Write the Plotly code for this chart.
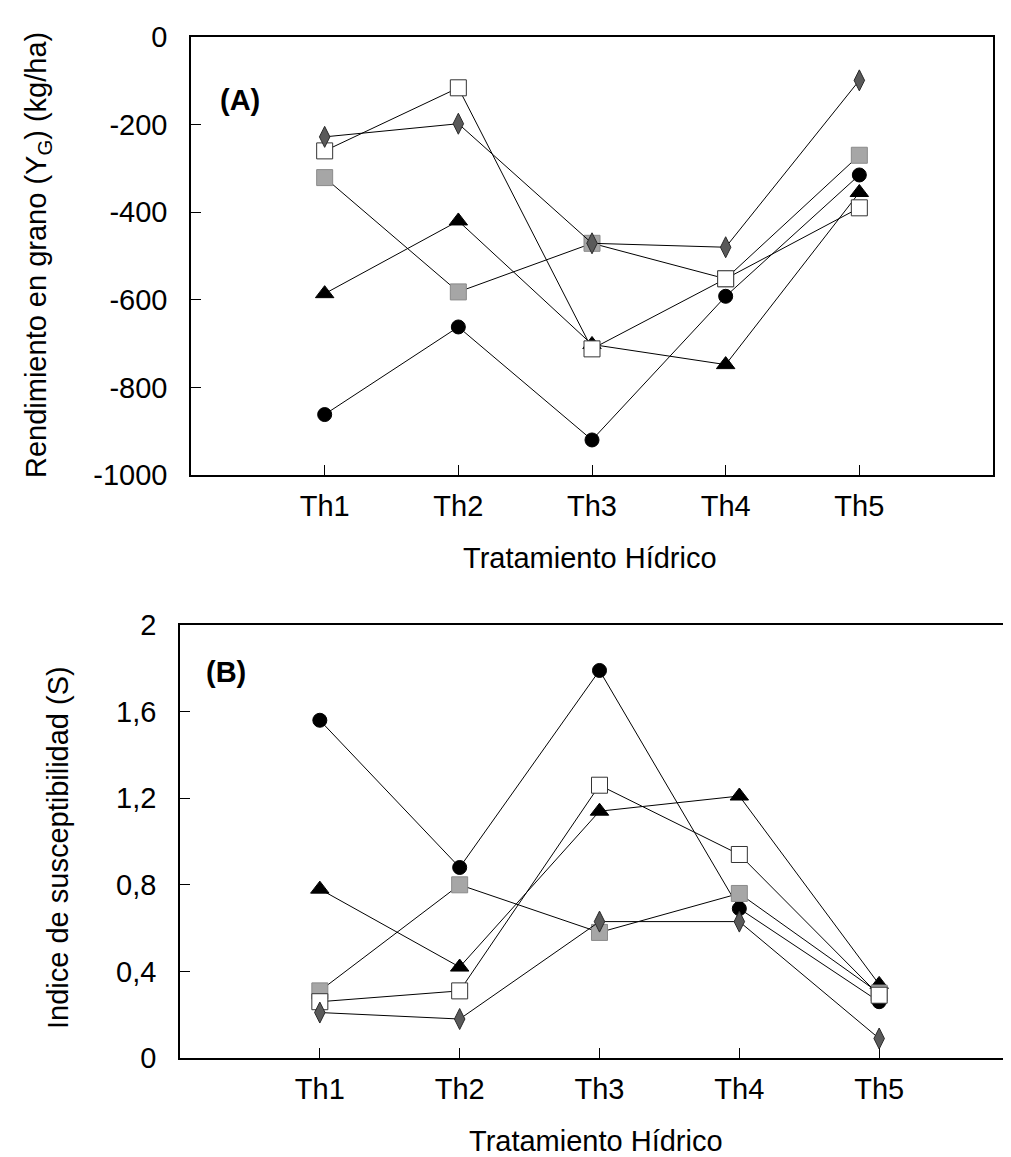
import plotly.graph_objects as go

# ---------------- data ----------------
categories = ["Th1", "Th2", "Th3", "Th4", "Th5"]

# Panel A: Rendimiento en grano (kg/ha)
a_circle = [-862, -662, -920, -592, -315]
a_triangle = [-586, -420, -702, -748, -355]
a_diamond = [-228, -198, -471, -480, -99]
a_stipple = [-321, -582, -471, -552, -270]
a_open = [-260, -116, -712, -552, -390]

# Panel B: Indice de susceptibilidad (S)
b_circle = [1.56, 0.88, 1.79, 0.69, 0.26]
b_triangle = [0.78, 0.42, 1.14, 1.21, 0.34]
b_diamond = [0.21, 0.18, 0.63, 0.63, 0.09]
b_stipple = [0.31, 0.80, 0.58, 0.76, 0.30]
b_open = [0.26, 0.31, 1.26, 0.94, 0.29]

a_tickvals = [-1000, -800, -600, -400, -200, 0]
a_ticktext = ["-1000", "-800", "-600", "-400", "-200", "0"]
b_tickvals = [0, 0.4, 0.8, 1.2, 1.6, 2]
b_ticktext = ["0", "0,4", "0,8", "1,2", "1,6", "2"]

# ---------------- styling ----------------
W, H = 1011, 1157
FONT = "Liberation Sans, Arial, sans-serif"

styles = [
    dict(name="circle", marker=dict(symbol="circle", size=14, color="black",
                                     line=dict(color="black", width=1))),
    dict(name="triangle", marker=dict(symbol="triangle-up", size=16, color="black",
                                       line=dict(color="black", width=1))),
    dict(name="stipple", marker=dict(symbol="square", size=16, color="#a6a6a6",
                                      line=dict(color="#8a8a8a", width=1))),
    dict(name="open", marker=dict(symbol="square", size=16, color="white",
                                   line=dict(color="#333333", width=1))),
    dict(name="diamond", marker=dict(symbol="diamond-tall", size=15, color="#5a5a5a",
                                      line=dict(color="#2a2a2a", width=1))),
]

series_a = {"circle": a_circle, "triangle": a_triangle, "stipple": a_stipple,
            "open": a_open, "diamond": a_diamond}
series_b = {"circle": b_circle, "triangle": b_triangle, "stipple": b_stipple,
            "open": b_open, "diamond": b_diamond}

fig = go.Figure()
for st in styles:
    fig.add_trace(go.Scatter(x=categories, y=series_a[st["name"]], mode="lines+markers",
                             line=dict(color="black", width=1), marker=st["marker"],
                             xaxis="x", yaxis="y", showlegend=False, name=st["name"]))
for st in styles:
    fig.add_trace(go.Scatter(x=categories, y=series_b[st["name"]], mode="lines+markers",
                             line=dict(color="black", width=1), marker=st["marker"],
                             xaxis="x2", yaxis="y2", showlegend=False, name=st["name"]))

def px_x(p):
    return p / W

def px_y(p):
    return 1 - p / H

axis_common = dict(showline=True, linecolor="black", linewidth=1.5, ticks="inside",
                   ticklen=10, tickwidth=1, tickcolor="black", showgrid=False,
                   zeroline=False, automargin=False,
                   tickfont=dict(family=FONT, size=29, color="black"))

fig.update_layout(
    template="none",
    width=W, height=H,
    margin=dict(l=0, r=0, t=0, b=0, pad=0),
    paper_bgcolor="white", plot_bgcolor="white",
    font=dict(family=FONT, color="black"),
    xaxis=dict(domain=[px_x(183), px_x(985)], anchor="y", type="category",
               categoryorder="array", categoryarray=categories, range=[-1, 5],
               mirror=True, ticklabelstandoff=4, **axis_common),
    yaxis=dict(domain=[px_y(467), px_y(29)], anchor="x", range=[-1000, 0],
               tickvals=a_tickvals, ticktext=a_ticktext, mirror=True,
               ticklabelstandoff=16, **axis_common),
    xaxis2=dict(domain=[px_x(172), 1.0], anchor="y2", type="category",
                categoryorder="array", categoryarray=categories, range=[-1, 5.0],
                mirror=True, ticklabelstandoff=4, **axis_common),
    yaxis2=dict(domain=[px_y(1050), px_y(617)], anchor="x2", range=[0, 2],
                tickvals=b_tickvals, ticktext=b_ticktext, mirror=False,
                ticklabelstandoff=16, **axis_common),
)

title_font = dict(family=FONT, size=29, color="black")
fig.add_annotation(text="Tratamiento Hídrico", x=px_x(582), y=px_y(550),
                   xref="paper", yref="paper", showarrow=False, font=title_font,
                   xanchor="center", yanchor="middle")
fig.add_annotation(text="Tratamiento Hídrico", x=px_x(588), y=px_y(1133),
                   xref="paper", yref="paper", showarrow=False, font=title_font,
                   xanchor="center", yanchor="middle")
fig.add_annotation(text="Rendimiento en grano (Y<sub>G</sub>) (kg/ha)", x=px_x(30), y=px_y(247),
                   xref="paper", yref="paper", showarrow=False, font=title_font,
                   textangle=-90, xanchor="center", yanchor="middle")
fig.add_annotation(text="Indice de susceptibilidad (S)", x=px_x(50), y=px_y(840),
                   xref="paper", yref="paper", showarrow=False, font=title_font,
                   textangle=-90, xanchor="center", yanchor="middle")
fig.add_annotation(text="<b>(A)</b>", x=px_x(232), y=px_y(92),
                   xref="paper", yref="paper", showarrow=False,
                   font=dict(family=FONT, size=29, color="black"),
                   xanchor="center", yanchor="middle")
fig.add_annotation(text="<b>(B)</b>", x=px_x(218), y=px_y(664),
                   xref="paper", yref="paper", showarrow=False,
                   font=dict(family=FONT, size=29, color="black"),
                   xanchor="center", yanchor="middle")

fig.write_html("out.html")
